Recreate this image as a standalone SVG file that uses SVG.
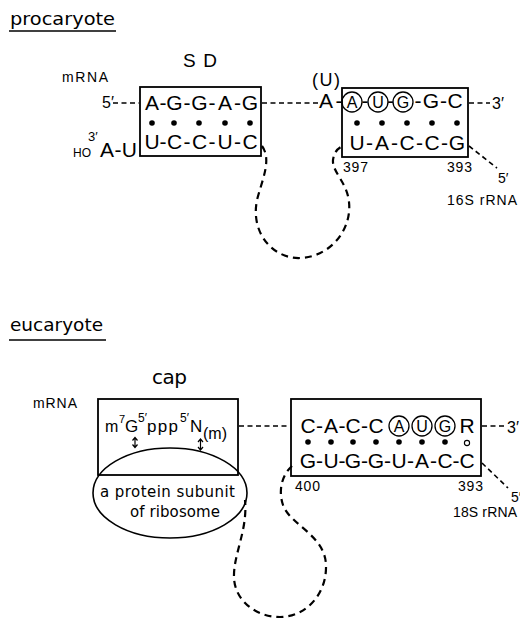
<svg xmlns="http://www.w3.org/2000/svg" width="520" height="619" viewBox="0 0 520 619">
<defs>
<style>
text{fill:#000;font-family:"Liberation Sans",Arial,sans-serif}
.w{font-family:"DejaVu Sans","Liberation Sans",sans-serif}
.seq{font-size:21px;text-anchor:middle}
.cir{font-size:16px;text-anchor:middle}
.num{font-size:14px}
.box{fill:none;stroke:#000;stroke-width:1.8}
.ring{fill:none;stroke:#000;stroke-width:1.3}
.dash{fill:none;stroke:#000;stroke-width:1.6;stroke-dasharray:5 3.5}
.loop{fill:none;stroke:#000;stroke-width:2.2;stroke-dasharray:7 5}
.ul{stroke:#000;stroke-width:1.5}
.arw{stroke:#000;stroke-width:1.2;fill:none}
</style>
</defs>
<rect width="520" height="619" fill="#fff"/>

<g id="title-procaryote">
<text class="w" x="10" y="25" font-size="17" textLength="105" lengthAdjust="spacingAndGlyphs">procaryote</text>
<line class="ul" x1="9" y1="31" x2="116" y2="31"/>
</g>

<g id="sd-label"><text x="183" y="67" font-size="19" textLength="34">S D</text></g>
<g id="mrna-label-1"><text x="62" y="82" font-size="14" textLength="46">mRNA</text></g>

<g id="sd-box">
<rect class="box" x="140" y="87" width="121" height="69"/>
<text x="102" y="108" font-size="16">5′</text>
<g class="seq">
<text x="152" y="110">A</text><text x="163" y="110">-</text>
<text x="174.5" y="110">G</text><text x="187" y="110">-</text>
<text x="199.5" y="110">G</text><text x="212" y="110">-</text>
<text x="225" y="110">A</text><text x="237.5" y="110">-</text>
<text x="250" y="110">G</text>
<text x="152" y="149">U</text><text x="163" y="149">-</text>
<text x="174.5" y="149">C</text><text x="187" y="149">-</text>
<text x="199.5" y="149">C</text><text x="212" y="149">-</text>
<text x="225" y="149">U</text><text x="237.5" y="149">-</text>
<text x="250" y="149">C</text>
</g>
<g fill="#000">
<circle cx="152" cy="123" r="2.8"/><circle cx="174" cy="123" r="2.8"/><circle cx="199" cy="123" r="2.8"/><circle cx="225" cy="123" r="2.8"/><circle cx="250" cy="123" r="2.8"/>
</g>
<text x="88" y="141" font-size="13">3′</text>
<text x="73" y="157" font-size="12">HO</text>
<text x="100" y="157" font-size="21" textLength="37">A-U</text>
</g>

<g id="aug-box-1">
<rect class="box" x="342" y="88" width="126" height="69"/>
<text x="312" y="86" font-size="18" textLength="28">(U)</text>
<text class="seq" x="326" y="108">A</text><text class="seq" x="339" y="108">-</text>
<circle class="ring" cx="352" cy="102" r="10"/><text class="cir" x="352" y="108">A</text>
<text class="seq" x="365" y="108">-</text>
<circle class="ring" cx="378" cy="102" r="10"/><text class="cir" x="378" y="108">U</text>
<text class="seq" x="390.5" y="108">-</text>
<circle class="ring" cx="403" cy="102" r="10"/><text class="cir" x="403" y="108">G</text>
<text class="seq" x="418" y="108">-</text>
<text class="seq" x="431" y="108">G</text><text class="seq" x="443.5" y="108">-</text>
<text class="seq" x="455" y="108">C</text>
<g fill="#000">
<circle cx="357" cy="123" r="2.8"/><circle cx="382" cy="123" r="2.8"/><circle cx="407" cy="123" r="2.8"/><circle cx="432" cy="123" r="2.8"/><circle cx="457" cy="123" r="2.8"/>
</g>
<g class="seq">
<text x="357" y="150">U</text><text x="369.5" y="150">-</text>
<text x="382" y="150">A</text><text x="394.5" y="150">-</text>
<text x="407" y="150">C</text><text x="419.5" y="150">-</text>
<text x="432" y="150">C</text><text x="444.5" y="150">-</text>
<text x="457" y="150">G</text>
</g>
<text x="492" y="109" font-size="16">3′</text>
<text class="num" x="343" y="172" textLength="25">397</text>
<text class="num" x="447" y="172" textLength="25">393</text>
<text x="498" y="183" font-size="14">5′</text>
<text x="447" y="205" font-size="14" textLength="70">16S rRNA</text>
</g>

<g id="title-eucaryote">
<text class="w" x="10" y="331" font-size="17" textLength="93" lengthAdjust="spacingAndGlyphs">eucaryote</text>
<line class="ul" x1="9" y1="340" x2="106" y2="340"/>
</g>

<g id="cap-label"><text class="w" x="152" y="384" font-size="20" textLength="35">cap</text></g>
<g id="mrna-label-2"><text x="33" y="408" font-size="14" textLength="44">mRNA</text></g>

<g id="cap-box">
<rect class="box" x="98" y="399" width="140" height="76"/>
<text x="105" y="432" font-size="16">m</text>
<text x="119" y="423" font-size="11">7</text>
<text x="125" y="432" font-size="17">G</text>
<text x="138" y="422" font-size="12">5′</text>
<text x="147" y="432" font-size="17" textLength="31">ppp</text>
<text x="180" y="422" font-size="12">5′</text>
<text x="190" y="432" font-size="17">N</text>
<text x="203" y="439" font-size="16">(m)</text>
<g class="arw">
<path d="M135,438 V447 M132.5,440.5 L135,437.5 L137.5,440.5 M132.5,444.5 L135,447.5 L137.5,444.5"/>
<path d="M200.5,439 V450 M198,442 L200.5,439 L203,442 M198,447 L200.5,450 L203,447"/>
</g>
</g>

<g id="ribosome-subunit">
<ellipse cx="170" cy="493" rx="77" ry="45" fill="none" stroke="#000" stroke-width="1.6"/>
<text class="w" x="100" y="497" font-size="15" textLength="135">a protein subunit</text>
<text class="w" x="130" y="517" font-size="15" textLength="90">of ribosome</text>
</g>

<g id="aug-box-2">
<rect class="box" x="291" y="399" width="190" height="77"/>
<g class="seq">
<text x="308" y="433">C</text><text x="319.5" y="433">-</text>
<text x="331" y="433">A</text><text x="342" y="433">-</text>
<text x="353" y="433">C</text><text x="364.5" y="433">-</text>
<text x="376" y="433">C</text>
<text x="467" y="433">R</text>
</g>
<circle class="ring" cx="399" cy="426" r="10"/><text class="cir" x="399" y="432">A</text>
<circle class="ring" cx="422" cy="426" r="10"/><text class="cir" x="422" y="432">U</text>
<circle class="ring" cx="445" cy="426" r="10"/><text class="cir" x="445" y="432">G</text>
<g fill="#000">
<circle cx="308" cy="442" r="2.8"/><circle cx="331" cy="442" r="2.8"/><circle cx="353" cy="442" r="2.8"/><circle cx="376" cy="442" r="2.8"/><circle cx="399" cy="442" r="2.8"/><circle cx="422" cy="442" r="2.8"/><circle cx="445" cy="442" r="2.8"/>
</g>
<circle cx="467" cy="443" r="2.6" fill="none" stroke="#000" stroke-width="1.1"/>
<g class="seq">
<text x="308" y="468">G</text><text x="319.5" y="468">-</text>
<text x="331" y="468">U</text><text x="342" y="468">-</text>
<text x="353" y="468">G</text><text x="364.5" y="468">-</text>
<text x="376" y="468">G</text><text x="387.5" y="468">-</text>
<text x="399" y="468">U</text><text x="410.5" y="468">-</text>
<text x="422" y="468">A</text><text x="433.5" y="468">-</text>
<text x="445" y="468">C</text><text x="456" y="468">-</text>
<text x="467" y="468">C</text>
</g>
<text x="507" y="433" font-size="16">3′</text>
<text class="num" x="295" y="491" textLength="25">400</text>
<text class="num" x="458" y="491" textLength="25">393</text>
<text x="511" y="502" font-size="14">5′</text>
<text x="453" y="517" font-size="14" textLength="64">18S rRNA</text>
</g>

<g id="connectors">
<line class="dash" x1="113" y1="103" x2="139" y2="103"/>
<line class="dash" x1="262" y1="103" x2="319" y2="103"/>
<line class="dash" x1="469" y1="103" x2="490" y2="103"/>
<line class="dash" x1="469" y1="146" x2="497" y2="168"/>
<path class="loop" d="M262,146 C272,160 262,180 257,200 C250,235 275,259 300,258 C330,257 352,230 349,202 C347,182 332,172 333,160 C334,152 338,148 343,146"/>
<line class="dash" x1="239" y1="426" x2="290" y2="426"/>
<line class="dash" x1="482" y1="426" x2="505" y2="426"/>
<line class="dash" x1="482" y1="463" x2="508" y2="488"/>
<path class="loop" d="M292,466 C282,475 278,490 283,505 C290,525 325,535 326,565 C327,595 305,617 280,617 C255,617 235,600 234,578 C233,555 248,530 245,500"/>
</g>
</svg>
